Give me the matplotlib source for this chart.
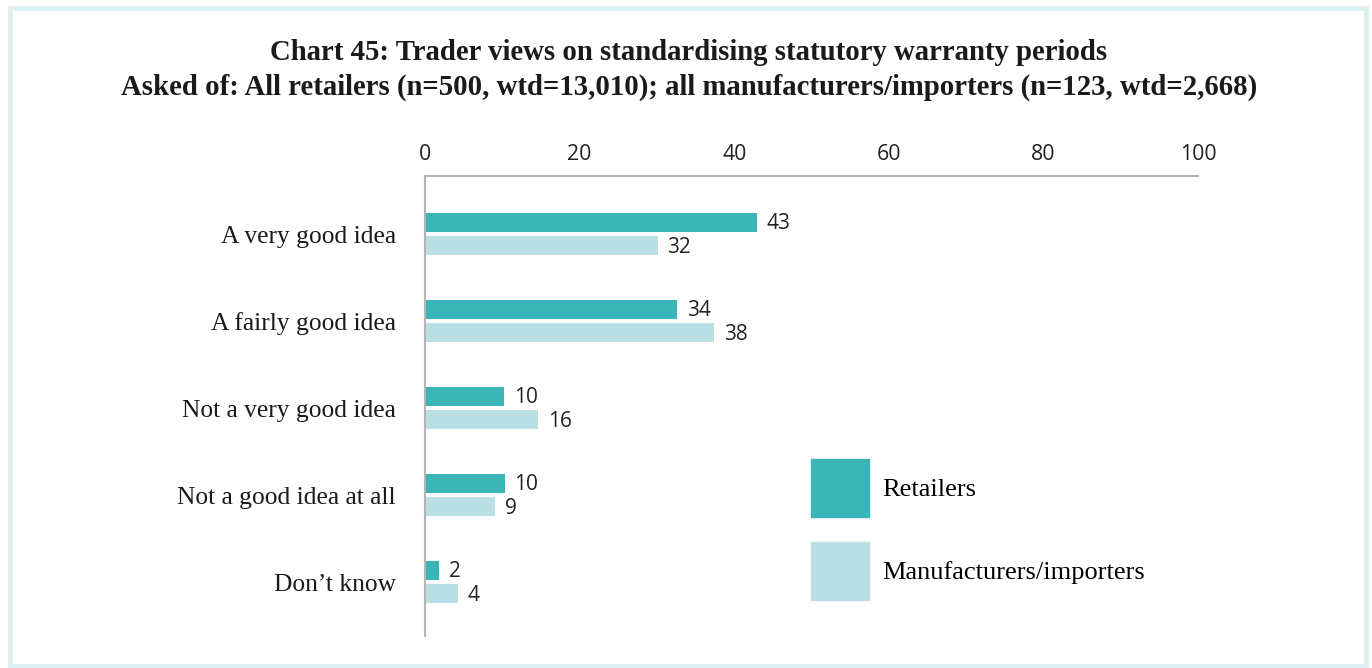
import matplotlib
matplotlib.use('Agg')
import matplotlib.pyplot as plt
from matplotlib.patches import Rectangle, Patch
import numpy as np

# data
categories = ['A very good idea', 'A fairly good idea', 'Not a very good idea',
              'Not a good idea at all', "Don\u2019t know"]
retailers = [42.9, 32.6, 10.2, 10.3, 1.8]          # bar lengths as drawn
manufacturers = [30.1, 37.4, 14.6, 9.1, 4.3]
retailer_labels = ['43', '34', '10', '10', '2']    # printed values
manufacturer_labels = ['32', '38', '16', '9', '4']
xticks = [0, 20, 40, 60, 80, 100]

col_ret = '#3bb6b8'
col_man = '#bae0e5'
frame_col = '#ddeff0'
serif = ['Liberation Serif', 'DejaVu Serif']
sans = ['Open Sans', 'DejaVu Sans']

fig = plt.figure(figsize=(13.72, 6.68), dpi=100)

# light frame round the whole chart
fig.patches.append(Rectangle((10 / 1372, 2 / 668), 1356 / 1372, 658 / 668,
                             transform=fig.transFigure, fill=False,
                             edgecolor=frame_col, linewidth=3.5))

fig.text(689 / 1372, 1 - 53 / 668,
         'Chart 45: Trader views on standardising statutory warranty periods',
         ha='center', va='center', fontsize=20.7, fontweight='bold',
         family=serif, color='#1a1a1a')
fig.text(689 / 1372, 1 - 87 / 668,
         'Asked of: All retailers (n=500, wtd=13,010); all manufacturers/importers (n=123, wtd=2,668)',
         ha='center', va='center', fontsize=20.7, fontweight='bold',
         family=serif, color='#1a1a1a')

ax = fig.add_axes([425 / 1372, 1 - 636 / 668, 773 / 1372, 460 / 668])

y = np.arange(len(categories))
h = 0.215
ax.barh(y - 0.135, retailers, height=h, color=col_ret)
ax.barh(y + 0.135, manufacturers, height=h, color=col_man)

for i in range(len(categories)):
    ax.annotate(retailer_labels[i], (retailers[i], y[i] - 0.135),
                xytext=(7, -1), textcoords='offset points', va='center',
                ha='left', fontsize=15, family=sans, color='#222222')
    ax.annotate(manufacturer_labels[i], (manufacturers[i], y[i] + 0.135),
                xytext=(7, -1), textcoords='offset points', va='center',
                ha='left', fontsize=15, family=sans, color='#222222')

ax.set_xlim(0, 100)
ax.set_ylim(4.62, -0.667)
ax.xaxis.tick_top()
ax.set_xticks(xticks)
ax.set_xticklabels([str(t) for t in xticks], fontsize=15.3, family=sans, color='#222222')
ax.set_yticks(y)
ax.set_yticklabels(categories, fontsize=18.4, family=serif, color='#1a1a1a')
ax.tick_params(axis='x', length=0, pad=8)
ax.tick_params(axis='y', length=0, pad=21)

for s in ['right', 'bottom']:
    ax.spines[s].set_visible(False)
for s in ['top', 'left']:
    ax.spines[s].set_color('#b5b5b5')
    ax.spines[s].set_linewidth(1.5)

handles = [Patch(color=col_ret, label='Retailers'),
           Patch(color=col_man, label='Manufacturers/importers')]
fig.legend(handles=handles, loc='upper left',
           bbox_to_anchor=(811 / 1372, 1 - 459 / 668),
           frameon=False, borderpad=0, borderaxespad=0,
           handlelength=2.2, handleheight=3.0, handletextpad=0.49,
           labelspacing=0.95, prop={'family': serif, 'size': 19})

fig.savefig('out.png', dpi=100)
